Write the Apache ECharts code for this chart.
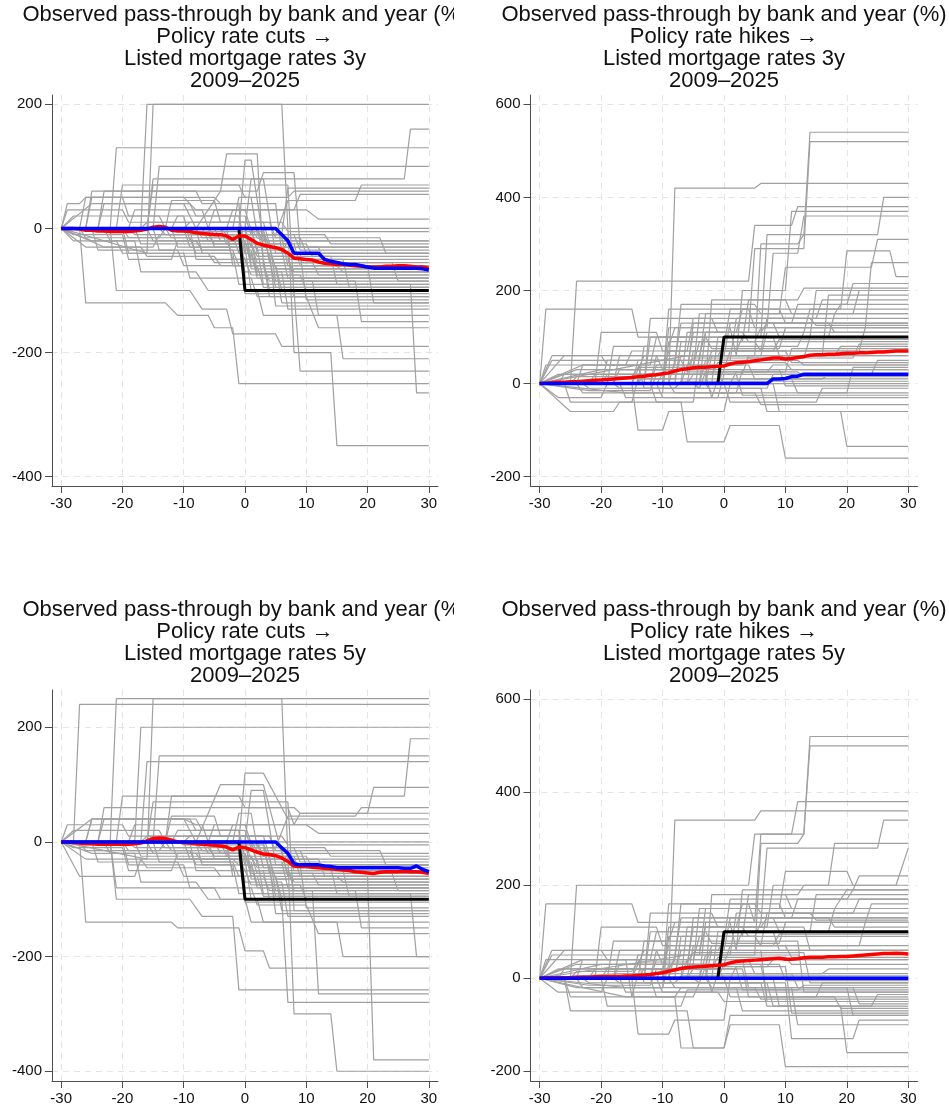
<!DOCTYPE html>
<html>
<head>
<meta charset="utf-8">
<title>Observed pass-through by bank and year</title>
<script src="https://cdn.jsdelivr.net/npm/echarts@6/dist/echarts.min.js"></script>
<style>
  html, body { margin: 0; padding: 0; background: #fff; }
  #chart { width: 949px; height: 1110px; }
</style>
</head>
<body>
<div id="chart"></div>
<script>
// ---- data ----
const eventTime = [-30,-29,-28,-27,-26,-25,-24,-23,-22,-21,-20,-19,-18,-17,-16,-15,-14,-13,-12,-11,
  -10,-9,-8,-7,-6,-5,-4,-3,-2,-1,0,1,2,3,4,5,6,7,8,9,10,11,12,13,14,15,16,17,18,19,20,
  21,22,23,24,25,26,27,28,29,30];
const xTicks = [-30, -20, -10, 0, 10, 20, 30];
const yTicksCuts = [-400, -200, 0, 200];
const yTicksHikes = [-200, 0, 200, 400, 600];

// policy rate path (black)
const policyX = [-30, -1, 0, 30];
const cutsPolicy = [0, 0, -100, -100];
const hikesPolicy = [0, 0, 100, 100];

// mean (red) and median (blue), one value per event month
const cuts3Mean = [0,0,0,-1,-3,-3,-4,-4,-5,-5,-5,-5,-4,-3,-1,2,3,2,-3,-4,
  -4,-5,-7,-8,-9,-10,-10,-12,-18,-12,-12,-18,-24,-27,-29,-31,-34,-40,-48,-49,-50,
  -51,-54,-56,-57,-58,-58,-59,-60,-61,-62,-62,-62,-61,-61,-60,-60,-61,-62,-62,-64];
const cuts3Median = [0,0,0,0,0,0,0,0,0,0,0,0,0,0,0,0,0,0,0,0,
  0,0,0,0,0,0,0,0,0,0,0,0,0,0,0,0,-10,-20,-40,-40,-40,
  -40,-40,-50,-53,-55,-57,-58,-58,-60,-62,-64,-64,-64,-64,-64,-64,-64,-64,-65,-67];
const hikes3Mean = [0,1,2,3,3,4,4,5,6,7,8,9,10,11,12,13,15,16,18,19,
  21,23,27,30,32,34,35,35,36,37,38,42,45,46,47,49,51,53,55,55,53,
  54,56,58,61,62,62,63,63,64,65,65,66,66,67,68,68,69,70,70,70];
const hikes3Median = [0,0,0,0,0,0,0,0,0,0,0,0,0,0,0,0,0,0,0,0,
  0,0,0,0,0,0,0,0,0,0,0,0,0,0,0,0,0,0,10,10,11,
  15,16,20,20,20,20,20,20,20,20,20,20,20,20,20,20,20,20,20,20];
const cuts5Mean = [0,0,-1,-2,-3,-3,-4,-4,-4,-4,-4,-4,-3,-2,2,6,7,6,3,0,
  -1,-2,-3,-4,-5,-6,-7,-9,-14,-9,-10,-14,-18,-21,-22,-24,-28,-34,-42,-43,-43,
  -44,-45,-46,-47,-48,-49,-50,-52,-53,-54,-55,-53,-52,-52,-52,-51,-52,-52,-53,-55];
const cuts5Median = [0,0,0,0,0,0,0,0,0,0,0,0,0,0,0,0,0,0,0,0,
  0,0,0,0,0,0,0,0,0,0,0,0,0,0,0,0,-10,-20,-38,-40,-40,
  -40,-40,-42,-43,-45,-45,-45,-45,-45,-45,-45,-45,-45,-45,-45,-46,-46,-42,-48,-52];
const hikes5Mean = [0,1,1,1,1,1,2,2,2,3,3,3,4,4,5,5,6,7,8,10,
  12,15,18,21,23,24,25,26,27,28,29,33,36,37,38,39,40,41,42,43,41,
  41,42,44,45,45,45,46,46,47,47,48,49,50,51,52,53,53,54,53,52];
const hikes5Median = [0,0,0,0,0,0,0,0,0,0,0,0,0,0,0,0,0,0,0,0,
  0,0,0,0,0,0,0,0,0,0,0,0,0,0,0,0,0,0,0,0,0,
  0,0,0,0,0,0,0,0,0,0,0,0,0,0,0,0,0,0,0,0];

// bank-year paths (grey): vertices as x,y,x,y,...
const cuts3Lines = [
  [-30,0,-17,0,-16,200,6,200,8,-200,14,-200,15,-350,30,-350],
  [-30,0,-16,-40,-15,200,30,200],
  [-30,0,-22,0,-21,130,30,130],
  [-30,0,-15,0,-14,100,30,100],
  [-30,0,-16,0,-15,80,26,80,27,160,30,160],
  [-30,0,-25,40,-10,40,-8,0,-4,60,-3,120,2,120,3,-60,30,-60],
  [-30,0,-26,0,-25,60,-8,60,-7,40,-1,40,0,-80,30,-80],
  [-30,0,-24,0,-23,60,2,60,3,90,8,90,9,-30,30,-30],
  [-30,0,-16,0,-15,70,7,70,8,-110,30,-110],
  [-30,0,-27,0,-26,50,-5,50,-4,40,5,40,6,-40,30,-40],
  [-30,0,-29,40,-27,40,-26,50,-20,50,-19,20,-10,20,-9,-20,1,-20,2,-70,30,-70],
  [-30,0,-27,0,-26,-120,-13,-120,-11,-140,-6,-140,-5,-160,-2,-160,-1,-250,30,-250],
  [-30,0,-22,0,-21,-100,-9,-100,-7,-130,-3,-130,-2,-170,5,-170,6,-190,30,-190],
  [-30,0,-25,-20,-18,-20,-17,-70,-8,-70,-6,-100,2,-100,3,-140,15,-140,16,-210,30,-210],
  [-30,0,-20,0,-19,-40,-10,-40,-9,-80,1,-80,2,-110,10,-110,12,-160,30,-160],
  [-30,0,-10,0,-9,-30,0,-30,1,-100,8,-100,9,-230,30,-230],
  [-30,0,-16,0,-15,-20,-1,-20,0,-70,6,-70,7,-130,30,-130],
  [-30,0,-5,0,-4,-20,0,-20,1,-60,20,-60,21,-120,30,-120],
  [-30,0,-12,0,-11,-30,2,-30,3,-90,27,-90,28,-265,30,-265],
  [-30,0,-25,0,-24,-35,-11,-35,-10,-60,5,-60,6,-100,30,-100],
  [-30,0,-13,0,-12,-15,-3,-15,-2,-50,7,-50,8,-70,30,-70],
  [-30,0,-8,0,-7,-40,1,-40,2,-80,30,-80],
  [-30,0,0,0,1,-30,12,-30,13,-60,30,-60],
  [-30,0,-28,20,-14,20,-13,0,30,0],
  [-30,0,-17,0,-16,10,6,10,7,-5,30,-5],
  [-30,0,-1,0,0,110,1,110,3,-20,30,-20],
  [-30,0,-3,0,-2,-60,3,-60,4,-85,18,-85,19,-150,30,-150],
  [-30,0,-19,0,-18,-10,-6,-10,-5,-25,1,-25,2,-45,14,-45,15,-90,30,-90],
  [-30,0,-24,0,-23,40,-9,40,-8,20,0,20,1,-10,8,-10,9,-35,30,-35],
  [-30,0,-21,0,-20,70,-1,70,0,50,7,50,8,60,30,60],
  [-30,0,-6,0,-5,30,8,30,9,55,30,55],
  [-30,0,-14,0,-13,-10,5,-10,7,45,18,45,19,70,30,70],
  [-30,0,-26,0,-25,50,-10,50,-8,30,10,30,12,15,30,15],
  [-30,0,-9,0,-8,-50,0,-50,1,-75,30,-75],
  [-30,0,1,0,2,-40,9,-40,10,-115,30,-115],
  [-30,0,-4,0,-3,-10,3,-10,4,-50,16,-50,17,-95,30,-95],
  [-30,0,-7,0,-6,-20,-1,-20,0,-105,30,-105],
  [-30,0,2,0,3,-25,10,-25,11,-45,30,-45],
  [-30,0,-20,0,-19,-15,-14,-15,-13,0,0,0,1,-50,4,-50,5,-95,30,-95],
  [-30,0,-11,0,-10,-5,3,-5,4,-30,30,-30],
  [-30,0,-29,30,-20,30,-19,10,0,10,1,-65,30,-65],
  [-30,0,-1,0,0,-40,4,-40,5,-125,30,-125],
  [-30,0,3,0,4,-55,24,-55,25,-85,30,-85],
  [-30,0,-23,-30,-15,-30,-14,-10,-2,-10,-1,-40,6,-40,7,-20,30,-20],
  [-30,0,-28,-10,-20,-10,-19,-50,-12,-50,-11,-20,0,-20,1,-55,30,-55],
  [-30,0,-2,0,-1,50,1,50,2,-10,13,-10,14,-25,30,-25],
  [-30,0,5,0,6,-15,22,-15,23,-40,30,-40],
  [-30,0,-6,0,-5,-10,6,-10,7,65,30,65],
  [-30,0,-18,0,-17,-25,4,-25,5,-85,11,-85,12,-140,30,-140],
  [-30,0,-26,-30,-17,-30,-16,-45,-5,-45,-4,-60,2,-60,3,-95,30,-95],
  [-30,0,-23,0,-22,-20,-8,-20,-7,-35,1,-35,2,-75,9,-75,10,-100,30,-100],
  [-30,0,-19,0,-18,30,-7,30,-6,0,2,0,3,-45,7,-45,8,-85,30,-85],
  [-30,0,-12,0,-11,20,-1,20,0,-30,4,-30,5,-65,30,-65],
  [-30,0,-3,0,-2,30,0,30,2,-35,6,-35,7,-80,30,-80],
  [-30,0,-15,0,-14,-35,-2,-35,-1,-60,5,-60,6,-120,30,-120],
  [-30,0,-28,-20,-21,-20,-20,-40,-6,-40,-5,-55,3,-55,4,-110,30,-110],
  [-30,0,-8,0,-7,-15,2,-15,3,-20,7,-20,8,-50,30,-50],
  [-30,0,0,0,1,80,3,80,5,-40,30,-40],
  [-30,0,-10,0,-9,10,4,10,5,-15,9,-15,10,-40,30,-40],
  [-30,0,-27,0,-26,-15,-9,-15,-8,-40,-2,-40,-1,-90,30,-90],
  [-30,0,-4,0,-3,-25,1,-25,2,-55,11,-55,12,-75,30,-75],
  [-30,0,1,0,2,-15,6,-15,7,-60,15,-60,16,-70,30,-70],
  [-30,0,-13,0,-12,45,-5,45,-4,10,3,10,4,-25,8,-25,9,-60,30,-60],
  [-30,0,-6,0,-5,-30,-1,-30,0,-50,3,-50,4,-100,30,-100]
];
const hikes3Lines = [
  [-30,0,-9,0,-8,420,5,420,6,430,30,430],
  [-30,0,-6,60,5,60,6,300,12,300,13,320,14,540,30,540],
  [-30,0,-4,0,-3,110,4,110,5,290,13,290,14,520,30,520],
  [-30,0,-25,0,-24,220,4,220,5,340,11,340,12,380,30,380],
  [-30,0,-29,160,-15,160,-14,100,6,100,7,320,25,320,26,400,30,400],
  [-30,0,-10,0,-9,120,7,120,8,280,12,280,13,360,30,360],
  [-30,0,-18,0,-17,60,2,60,3,200,10,200,11,370,30,370],
  [-30,0,-20,30,-5,30,-4,150,9,150,10,250,24,250,25,310,30,310],
  [-30,0,-14,0,-13,80,0,80,1,160,19,160,20,285,27,285,28,230,30,230],
  [-30,0,-23,40,-12,40,-11,100,14,100,15,200,30,200],
  [-30,0,-26,60,-20,60,-19,40,-8,40,-7,170,5,170,6,150,21,150,22,200,30,200],
  [-30,0,-16,-20,-10,-20,-9,90,5,90,6,120,23,120,24,260,30,260],
  [-30,0,-25,-60,-18,-60,-17,-40,-5,-40,-4,60,16,60,17,190,30,190],
  [-30,0,-15,0,-14,-100,-10,-100,-9,-60,0,-60,1,0,8,0,9,-60,19,-60,20,-135,30,-135],
  [-30,0,-12,0,-11,-40,-7,-40,-6,-125,0,-125,1,-90,9,-90,10,-160,30,-160],
  [-30,0,-22,0,-21,20,-6,20,-5,130,8,130,9,100,30,100],
  [-30,0,-27,-30,-20,-30,-19,0,-3,0,-2,180,10,180,11,150,30,150],
  [-30,0,-13,0,-12,140,-2,140,-1,110,13,110,14,160,30,160],
  [-30,0,-19,0,-18,80,-9,80,-8,120,1,120,2,60,30,60],
  [-30,0,-4,0,-3,50,12,50,13,40,30,40],
  [-30,0,-28,60,-11,60,-10,30,0,30,1,70,22,70,23,120,30,120],
  [-30,0,-2,0,-1,100,8,100,9,60,30,60],
  [-30,0,-17,0,-16,-30,-1,-30,0,20,30,20],
  [-30,0,-24,0,-23,-20,2,-20,3,30,30,30],
  [-30,0,-7,0,-6,40,4,40,5,10,30,10],
  [-30,0,-21,0,-20,110,-11,110,-10,70,6,70,7,140,30,140],
  [-30,0,-8,0,-7,90,3,90,4,180,12,180,13,205,30,205],
  [-30,0,0,0,1,-40,15,-40,16,-10,30,-10],
  [-30,0,-26,0,-25,-40,-15,-40,-14,10,11,10,12,-20,30,-20],
  [-30,0,-11,0,-10,20,-3,20,-2,-30,30,-30],
  [-30,0,-15,0,-14,50,-4,50,-3,150,18,150,19,170,30,170],
  [-30,0,-5,0,-4,-10,7,-10,8,20,24,20,25,50,30,50],
  [-30,0,-27,0,-26,20,-1,20,0,0,30,0],
  [-30,0,1,0,2,25,10,25,11,75,30,75],
  [-30,0,-9,0,-8,-20,5,-20,6,-45,30,-45],
  [-30,0,-18,0,-17,30,-6,30,-5,110,3,110,4,90,30,90],
  [-30,0,-12,0,-11,60,0,60,1,130,17,130,18,110,30,110],
  [-30,0,-3,0,-2,-20,20,-20,21,35,30,35],
  [-30,0,-23,0,-22,-10,-8,-10,-7,5,30,5],
  [-30,0,-24,0,-23,40,-14,40,-13,-10,6,-10,7,-60,30,-60],
  [-30,0,-10,0,-9,160,4,160,5,120,30,120],
  [-30,0,-29,40,-16,40,-15,70,-6,70,-5,140,15,140,16,180,30,180],
  [-30,0,-6,0,-5,70,10,70,11,45,30,45],
  [-30,0,-1,0,0,30,9,30,10,-5,30,-5],
  [-30,0,-20,0,-19,50,-7,50,-6,25,12,25,13,15,30,15],
  [-30,0,-14,0,-13,20,2,20,3,-25,30,-25],
  [-30,0,-28,50,-8,50,-7,130,11,130,12,170,20,170,21,215,30,215],
  [-30,0,-24,30,-14,30,-13,60,-4,60,-3,110,6,110,7,130,30,130],
  [-30,0,-20,0,-19,20,-10,20,-9,70,2,70,3,100,17,100,18,150,30,150],
  [-30,0,-17,10,-8,10,-7,60,-1,60,0,80,12,80,13,110,30,110],
  [-30,0,-12,0,-11,40,-5,40,-4,90,5,90,6,70,30,70],
  [-30,0,-27,20,-9,20,-8,40,3,40,4,55,21,55,22,85,30,85],
  [-30,0,-15,0,-14,30,-3,30,-2,70,8,70,9,95,30,95],
  [-30,0,-9,0,-8,50,1,50,2,140,14,140,15,125,30,125],
  [-30,0,-22,-15,-12,-15,-11,20,-2,20,-1,45,10,45,11,30,30,30],
  [-30,0,-6,0,-5,20,3,20,4,60,18,60,19,80,30,80],
  [-30,0,-18,0,-17,-10,-4,-10,-3,25,7,25,8,40,30,40],
  [-30,0,-13,0,-12,100,-3,100,-2,75,9,75,10,120,30,120],
  [-30,0,-25,0,-24,15,-15,15,-14,35,-6,35,-5,55,13,55,14,100,30,100],
  [-30,0,-11,0,-10,-30,-2,-30,-1,10,16,10,17,20,30,20],
  [-30,0,-3,0,-2,60,6,60,7,110,30,110],
  [-30,0,-7,0,-6,110,2,110,3,160,9,160,10,130,30,130]
];
const cuts5Lines = [
  [-30,0,-28,0,-27,240,30,240],
  [-30,0,-22,0,-21,250,6,250,8,-300,14,-300,15,-400,30,-400],
  [-30,0,-16,-30,-15,250,30,250],
  [-30,0,-18,0,-17,200,30,200],
  [-30,0,-15,0,-14,150,30,150],
  [-30,0,-17,0,-16,140,30,140],
  [-30,0,-13,0,-12,80,26,80,27,180,30,180],
  [-30,0,-25,40,-10,40,-8,0,-4,100,3,100,7,-60,30,-60],
  [-30,0,-1,0,0,120,3,120,7,40,30,40],
  [-30,0,-26,0,-25,40,-8,40,-7,20,-1,20,0,-80,30,-80],
  [-30,0,-24,0,-23,60,8,60,9,50,20,50,21,95,30,95],
  [-30,0,-16,0,-15,70,7,70,8,-120,30,-120],
  [-30,0,-27,0,-26,-140,-12,-140,-11,-150,-1,-150,0,-190,3,-190,4,-220,30,-220],
  [-30,0,-22,0,-21,-100,-9,-100,-7,-130,-2,-130,-1,-258,30,-258],
  [-30,0,-25,-20,-18,-20,-17,-70,-8,-70,-6,-100,2,-100,3,-140,15,-140,16,-200,30,-200],
  [-30,0,-20,0,-19,-40,-10,-40,-9,-80,1,-80,2,-110,10,-110,12,-160,30,-160],
  [-30,0,-10,0,-9,-30,0,-30,1,-100,6,-100,7,-280,30,-280],
  [-30,0,-16,0,-15,-20,-1,-20,0,-70,6,-70,7,-130,30,-130],
  [-30,0,-5,0,-4,-20,0,-20,1,-60,20,-60,21,-380,30,-380],
  [-30,0,-12,0,-11,-30,2,-30,3,-90,27,-90,28,-200,30,-200],
  [-30,0,-25,0,-24,-35,-11,-35,-10,-60,5,-60,6,-100,30,-100],
  [-30,0,-13,0,-12,-15,-3,-15,-2,-50,7,-50,8,-70,30,-70],
  [-30,0,-8,0,-7,-40,1,-40,2,-80,30,-80],
  [-30,0,0,0,1,-30,12,-30,13,-60,30,-60],
  [-30,0,-28,20,-14,20,-13,0,30,0],
  [-30,0,-17,0,-16,10,6,10,7,-5,30,-5],
  [-30,0,-3,0,-2,-60,3,-60,4,-85,18,-85,19,-150,30,-150],
  [-30,0,-19,0,-18,-10,-6,-10,-5,-25,1,-25,2,-45,14,-45,15,-90,30,-90],
  [-30,0,-24,0,-23,40,-9,40,-8,20,0,20,1,-10,8,-10,9,-35,30,-35],
  [-30,0,-21,0,-20,80,-1,80,0,60,7,60,8,30,30,30],
  [-30,0,-6,0,-5,30,8,30,9,50,30,50],
  [-30,0,-14,0,-13,-10,5,-10,7,45,18,45,19,60,30,60],
  [-30,0,-26,0,-25,40,-10,40,-8,30,10,30,12,15,30,15],
  [-30,0,-9,0,-8,-50,0,-50,1,-75,30,-75],
  [-30,0,1,0,2,-40,9,-40,10,-115,30,-115],
  [-30,0,-4,0,-3,-10,3,-10,4,-50,16,-50,17,-95,30,-95],
  [-30,0,-7,0,-6,-20,-1,-20,0,-105,30,-105],
  [-30,0,2,0,3,-25,10,-25,11,-45,30,-45],
  [-30,0,-20,0,-19,-15,-14,-15,-13,0,0,0,1,-50,4,-50,5,-95,30,-95],
  [-30,0,-11,0,-10,-5,3,-5,4,-30,30,-30],
  [-30,0,-29,30,-20,30,-19,10,0,10,1,-65,30,-65],
  [-30,0,-1,0,0,-40,4,-40,5,-125,30,-125],
  [-30,0,3,0,4,-55,24,-55,25,-85,30,-85],
  [-30,0,-27,-60,-18,-60,-17,-30,-2,-30,-1,-40,6,-40,7,-20,30,-20],
  [-30,0,-28,-10,-20,-10,-19,-50,-12,-50,-11,-20,0,-20,1,-55,30,-55],
  [-30,0,-2,0,-1,50,1,50,2,-10,13,-10,14,-25,30,-25],
  [-30,0,5,0,6,-15,22,-15,23,-40,30,-40],
  [-30,0,-18,0,-17,-25,4,-25,5,-85,11,-85,12,-265,30,-265],
  [-30,0,-22,0,-21,-80,-5,-80,-4,-100,0,-100,1,-140,30,-140],
  [-30,0,-26,-30,-17,-30,-16,-45,-5,-45,-4,-60,2,-60,3,-95,30,-95],
  [-30,0,-23,0,-22,-20,-8,-20,-7,-35,1,-35,2,-75,9,-75,10,-100,30,-100],
  [-30,0,-19,0,-18,30,-7,30,-6,0,2,0,3,-45,7,-45,8,-85,30,-85],
  [-30,0,-12,0,-11,20,-1,20,0,-30,4,-30,5,-65,30,-65],
  [-30,0,-3,0,-2,30,0,30,2,-35,6,-35,7,-80,30,-80],
  [-30,0,-15,0,-14,-35,-2,-35,-1,-60,5,-60,6,-120,30,-120],
  [-30,0,-8,0,-7,-15,2,-15,3,-20,7,-20,8,-50,30,-50],
  [-30,0,0,0,1,90,3,90,5,-40,30,-40],
  [-30,0,-10,0,-9,10,4,10,5,-15,9,-15,10,-40,30,-40],
  [-30,0,-27,0,-26,-15,-9,-15,-8,-40,-2,-40,-1,-90,30,-90],
  [-30,0,-4,0,-3,-25,1,-25,2,-55,11,-55,12,-75,30,-75],
  [-30,0,1,0,2,-15,6,-15,7,-60,15,-60,16,-70,30,-70],
  [-30,0,-13,0,-12,45,-5,45,-4,10,3,10,4,-25,8,-25,9,-60,30,-60],
  [-30,0,-6,0,-5,-30,-1,-30,0,-50,3,-50,4,-100,30,-100]
];
const hikes5Lines = [
  [-30,0,-9,0,-8,340,5,340,6,360,30,360],
  [-30,0,-6,50,5,50,6,290,12,290,13,310,14,520,30,520],
  [-30,0,-4,0,-3,120,5,120,6,310,13,310,14,500,30,500],
  [-30,0,-25,0,-24,200,4,200,5,310,11,310,12,380,30,380],
  [-30,0,-29,160,-15,160,-14,120,6,120,7,280,25,280,26,340,30,340],
  [-30,0,-10,0,-9,110,7,110,8,200,17,200,18,290,30,290],
  [-30,0,-18,0,-17,60,2,60,3,190,21,190,22,220,30,220],
  [-30,0,-20,30,-5,30,-4,150,9,150,10,230,20,230,21,200,28,200,30,280],
  [-30,0,-14,0,-13,80,0,80,1,170,19,170,20,190,30,190],
  [-30,0,-23,40,-12,40,-11,100,14,100,15,180,30,180],
  [-30,0,-26,60,-20,60,-19,40,-8,40,-7,160,5,160,6,140,21,140,22,170,30,170],
  [-30,0,-16,-20,-10,-20,-9,90,5,90,6,120,23,120,24,160,30,160],
  [-30,0,-15,0,-14,-120,-9,-120,-8,-90,0,-90,1,0,8,0,9,-60,19,-60,20,-160,30,-160],
  [-30,0,-12,0,-11,-40,-8,-40,-7,-150,0,-150,1,-100,9,-100,10,-190,30,-190],
  [-30,0,-16,-40,-5,-40,-4,-10,10,-10,11,-130,21,-130,22,-90,30,-90],
  [-30,0,-24,-20,-10,-20,-9,30,6,30,7,-40,30,-40],
  [-30,0,-22,0,-21,20,-6,20,-5,130,8,130,9,100,30,100],
  [-30,0,-27,-30,-20,-30,-19,0,-3,0,-2,180,10,180,11,150,30,150],
  [-30,0,-13,0,-12,140,-2,140,-1,110,13,110,14,60,30,60],
  [-30,0,-19,0,-18,80,-9,80,-8,120,1,120,2,60,30,60],
  [-30,0,-4,0,-3,50,12,50,13,40,30,40],
  [-30,0,-28,60,-11,60,-10,30,0,30,1,70,22,70,23,120,30,120],
  [-30,0,-2,0,-1,100,8,100,9,60,30,60],
  [-30,0,-17,0,-16,-30,-1,-30,0,-50,30,-50],
  [-30,0,-24,0,-23,-20,2,-20,3,-70,30,-70],
  [-30,0,-7,0,-6,40,4,40,5,10,30,10],
  [-30,0,-21,0,-20,110,-11,110,-10,70,6,70,7,140,30,140],
  [-30,0,-8,0,-7,90,3,90,4,180,12,180,13,200,30,200],
  [-30,0,0,0,1,-40,15,-40,16,-10,30,-10],
  [-30,0,-26,0,-25,-40,-15,-40,-14,10,11,10,12,-20,30,-20],
  [-30,0,-11,0,-10,20,-3,20,-2,-30,30,-30],
  [-30,0,-15,0,-14,50,-4,50,-3,150,18,150,19,170,30,170],
  [-30,0,-5,0,-4,-10,7,-10,8,-60,24,-60,25,-35,30,-35],
  [-30,0,-27,0,-26,20,-1,20,0,0,30,0],
  [-30,0,1,0,2,25,10,25,11,-75,30,-75],
  [-30,0,-9,0,-8,-20,5,-20,6,-45,30,-45],
  [-30,0,-18,0,-17,30,-6,30,-5,110,3,110,4,90,30,90],
  [-30,0,-12,0,-11,60,0,60,1,130,17,130,18,110,30,110],
  [-30,0,-3,0,-2,-20,20,-20,21,-80,30,-80],
  [-30,0,-23,0,-22,-10,-8,-10,-7,5,30,5],
  [-30,0,-24,0,-23,40,-14,40,-13,-10,6,-10,7,-60,30,-60],
  [-30,0,-10,0,-9,160,4,160,5,120,30,120],
  [-30,0,-29,40,-16,40,-15,-40,-8,-40,-7,-20,11,-20,12,-100,30,-100],
  [-30,0,-6,0,-5,70,10,70,11,45,30,45],
  [-30,0,-1,0,0,30,9,30,10,-5,30,-5],
  [-30,0,-20,0,-19,-60,-7,-60,-6,-25,12,-25,13,-15,30,-15],
  [-30,0,-14,0,-13,20,2,20,3,-25,30,-25],
  [-30,0,-28,50,-8,50,-7,130,11,130,12,170,20,170,21,190,30,190],
  [-30,0,-26,0,-25,-70,-6,-70,-5,-150,0,-150,1,-80,30,-80],
  [-30,0,-24,30,-14,30,-13,60,-4,60,-3,110,6,110,7,130,30,130],
  [-30,0,-20,0,-19,20,-10,20,-9,70,2,70,3,100,17,100,18,150,30,150],
  [-30,0,-17,10,-8,10,-7,60,-1,60,0,80,12,80,13,-30,30,-30],
  [-30,0,-12,0,-11,40,-5,40,-4,90,5,90,6,70,30,70],
  [-30,0,-27,20,-9,20,-8,40,3,40,4,-20,21,-20,22,-55,30,-55],
  [-30,0,-15,0,-14,30,-3,30,-2,70,8,70,9,95,30,95],
  [-30,0,-9,0,-8,50,1,50,2,140,14,140,15,125,30,125],
  [-30,0,-22,-15,-12,-15,-11,20,-2,20,-1,45,10,45,11,30,30,30],
  [-30,0,-6,0,-5,20,3,20,4,-40,18,-40,19,-65,30,-65],
  [-30,0,-18,0,-17,-10,-4,-10,-3,25,7,25,8,40,30,40],
  [-30,0,-13,0,-12,100,-3,100,-2,75,9,75,10,120,30,120],
  [-30,0,-25,0,-24,15,-15,15,-14,35,-6,35,-5,55,13,55,14,-10,30,-10],
  [-30,0,-11,0,-10,-30,-2,-30,-1,10,16,10,17,20,30,20],
  [-30,0,-3,0,-2,60,6,60,7,-50,30,-50],
  [-30,0,-7,0,-6,110,2,110,3,160,9,160,10,130,30,130]
];

const titles = [
  'Observed pass-through by bank and year (%)\nPolicy rate cuts \u2192\nListed mortgage rates 3y\n2009\u20132025',
  'Observed pass-through by bank and year (%)\nPolicy rate hikes \u2192\nListed mortgage rates 3y\n2009\u20132025',
  'Observed pass-through by bank and year (%)\nPolicy rate cuts \u2192\nListed mortgage rates 5y\n2009\u20132025',
  'Observed pass-through by bank and year (%)\nPolicy rate hikes \u2192\nListed mortgage rates 5y\n2009\u20132025'
];

// ---- layout ----
const panels = [
  { lines: cuts3Lines, mean: cuts3Mean, median: cuts3Median, policy: cutsPolicy, yMin: -415, yMax: 215, yTicks: yTicksCuts,
    box: { left: 52, top: 95, width: 386, height: 391 }, titleX: 245, titleY: 4 },
  { lines: hikes3Lines, mean: hikes3Mean, median: hikes3Median, policy: hikesPolicy, yMin: -220, yMax: 620, yTicks: yTicksHikes,
    box: { left: 530.5, top: 95, width: 387, height: 391 }, titleX: 724, titleY: 4 },
  { lines: cuts5Lines, mean: cuts5Mean, median: cuts5Median, policy: cutsPolicy, yMin: -417, yMax: 265, yTicks: yTicksCuts,
    box: { left: 52, top: 690, width: 386, height: 391 }, titleX: 245, titleY: 599 },
  { lines: hikes5Lines, mean: hikes5Mean, median: hikes5Median, policy: hikesPolicy, yMin: -221, yMax: 620, yTicks: yTicksHikes,
    box: { left: 530.5, top: 690, width: 387, height: 391 }, titleX: 724, titleY: 599 }
];

const FONT = '"Liberation Sans", Arial, sans-serif';
const AXIS_COLOR = '#4d4d4d';

function toPairs(flat) {
  const out = [];
  for (let i = 0; i < flat.length; i += 2) out.push([flat[i], flat[i + 1]]);
  return out;
}
function zip(xs, ys) {
  return xs.map((x, i) => [x, ys[i]]);
}

const grids = [], xAxes = [], yAxes = [], series = [], titleList = [];

panels.forEach((p, i) => {
  grids.push(Object.assign({ containLabel: false }, p.box));
  titleList.push({
    text: titles[i],
    left: p.titleX, top: p.titleY, textAlign: 'center', padding: 0,
    textStyle: { fontFamily: FONT, fontSize: 22, fontWeight: 'normal', lineHeight: 22, color: '#111' }
  });
  xAxes.push({
    type: 'value', gridIndex: i, min: -31.5, max: 31.5,
    axisLine: { show: true, onZero: false, lineStyle: { color: AXIS_COLOR, width: 1 } },
    axisTick: { show: true, length: 7, customValues: xTicks, lineStyle: { color: AXIS_COLOR } },
    axisLabel: { customValues: xTicks, margin: 10, fontFamily: FONT, fontSize: 15, color: '#111' },
    splitLine: { show: true, lineStyle: { color: '#e4e4e4', type: [6, 5], width: 1 } }
  });
  yAxes.push({
    type: 'value', gridIndex: i, min: p.yMin, max: p.yMax,
    axisLine: { show: true, onZero: false, lineStyle: { color: AXIS_COLOR, width: 1 } },
    axisTick: { show: true, length: 7, customValues: p.yTicks, lineStyle: { color: AXIS_COLOR } },
    axisLabel: { customValues: p.yTicks, margin: 10, fontFamily: FONT, fontSize: 15, color: '#111' },
    splitLine: { show: true, lineStyle: { color: '#e4e4e4', type: [6, 5], width: 1 } }
  });
  p.lines.forEach(l => {
    series.push({
      type: 'line', xAxisIndex: i, yAxisIndex: i, data: toPairs(l),
      showSymbol: false, silent: true, z: 2,
      lineStyle: { color: '#a0a0a0', width: 1.2 }
    });
  });
  series.push({
    type: 'line', xAxisIndex: i, yAxisIndex: i, data: zip(policyX, p.policy),
    showSymbol: false, silent: true, z: 3, lineStyle: { color: '#000', width: 3 }
  });
  series.push({
    type: 'line', xAxisIndex: i, yAxisIndex: i, data: zip(eventTime, p.mean),
    showSymbol: false, silent: true, z: 4, lineStyle: { color: '#ff0000', width: 3.5 }
  });
  series.push({
    type: 'line', xAxisIndex: i, yAxisIndex: i, data: zip(eventTime, p.median),
    showSymbol: false, silent: true, z: 5, lineStyle: { color: '#0000ff', width: 3.5 }
  });
});

const chart = echarts.init(document.getElementById('chart'), null, { renderer: 'canvas' });
chart.setOption({
  backgroundColor: '#ffffff',
  animation: false,
  title: titleList,
  grid: grids,
  xAxis: xAxes,
  yAxis: yAxes,
  series: series,
  // the left-hand panels' first title line is cut off at the panel edge
  graphic: [
    { type: 'rect', left: 454, top: 0, z: 100, shape: { width: 18, height: 1110 }, style: { fill: '#fff' } }
  ]
});
</script>
</body>
</html>
